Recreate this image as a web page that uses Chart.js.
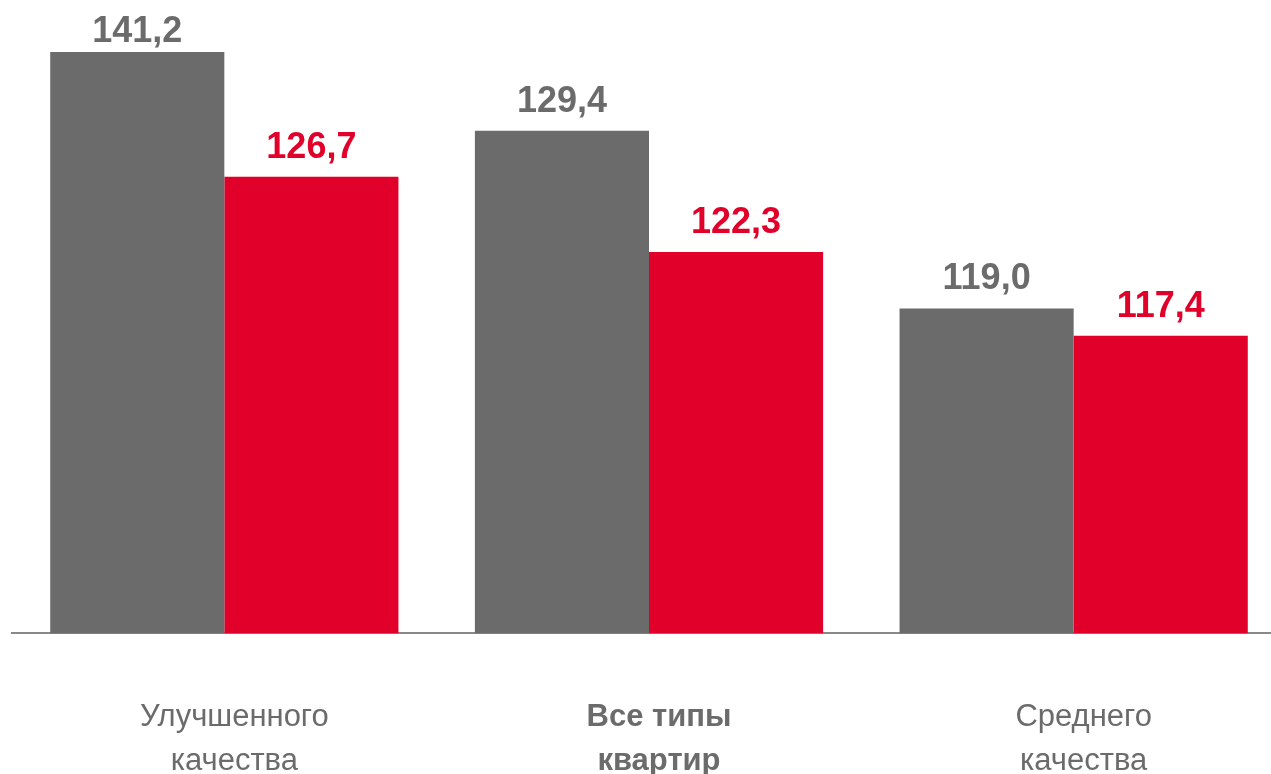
<!DOCTYPE html>
<html>
<head>
<meta charset="utf-8">
<script src="https://cdn.jsdelivr.net/npm/chart.js@4/dist/chart.umd.min.js"></script>
<style>
    html, body { margin: 0; padding: 0; background: #fff; overflow: hidden; }
    #wrap { position: absolute; left: 0; top: 0; width: 1290px; height: 865px; }
</style>
</head>
<body>
<div id="wrap"><canvas id="chart-main"></canvas></div>
<script>
// категории (подписи оси X, по строкам)
const categories = [
    ['Улучшенного', 'качества'],
    ['Все типы', 'квартир'],
    ['Среднего', 'качества']
];
// две серии: серые и красные столбцы
const seriesGray = [141.2, 129.4, 119.0];
const seriesRed = [126.7, 122.3, 117.4];

const GRAY = '#6b6b6b';
const RED = '#e1002a';
const FONT = '"Liberation Sans", Arial, sans-serif';

// подписи значений над столбцами
const valueLabelPlugin = {
    id: 'valueLabels',
    afterDatasetsDraw(chart) {
        const ctx = chart.ctx;
        const top = chart.chartArea.top;
        ctx.save();
        ctx.font = 'bold 36px ' + FONT;
        ctx.textAlign = 'center';
        ctx.textBaseline = 'alphabetic';
        chart.data.datasets.forEach(function (ds, i) {
            const meta = chart.getDatasetMeta(i);
            meta.data.forEach(function (bar, j) {
                const v = ds.data[j];
                let y = Math.max(bar.y, top) - 19;
                y = Math.max(y, 42); // верхний столбец обрезан
                ctx.fillStyle = ds.backgroundColor;
                ctx.fillText(v.toFixed(1).replace('.', ','), bar.x, y);
            });
        });
        ctx.restore();
    }
};

const data = {
    labels: categories,
    datasets: [
        { data: seriesGray, backgroundColor: GRAY },
        { data: seriesRed, backgroundColor: RED }
    ]
};

const options = {
    responsive: true,
    maintainAspectRatio: false,
    animation: false,
    layout: {
        padding: { top: 52, left: 12, right: 4, bottom: 19 }
    },
    datasets: {
        bar: {
            barPercentage: 1.0,
            categoryPercentage: 0.82,
            borderWidth: 0
        }
    },
    scales: {
        x: {
            grid: { display: false, drawTicks: false, tickLength: 0 },
            border: { display: true, color: '#898989', width: 2 },
            ticks: {
                padding: 63,
                color: GRAY,
                labelOffset: 10,
                maxRotation: 0,
                minRotation: 0,
                font: function (c) {
                    return {
                        family: FONT,
                        size: 31,
                        lineHeight: 1.4,
                        weight: c.index === 1 ? 'bold' : 'normal'
                    };
                }
            }
        },
        y: {
            display: false,
            min: 100,
            max: 134
        }
    },
    plugins: {
        legend: { display: false },
        tooltip: { enabled: false }
    }
};

var ctx = document.getElementById('chart-main').getContext('2d');
var chart = new Chart(ctx, {
    type: 'bar',
    data: data,
    options: options,
    plugins: [valueLabelPlugin]
});
</script>
</body>
</html>
